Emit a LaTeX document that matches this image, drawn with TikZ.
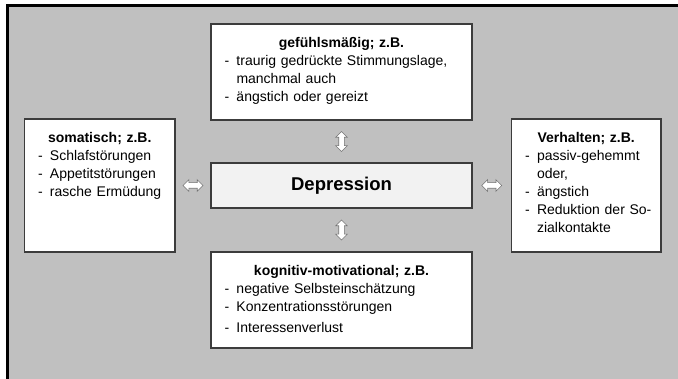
\documentclass[tikz,border=0pt]{standalone}
\usepackage{fontspec}
\setmainfont{Liberation Sans}
\usetikzlibrary{calc,positioning,shapes.arrows}
\definecolor{bggray}{RGB}{192,192,192}
\definecolor{framegray}{RGB}{60,60,60}
\definecolor{depfill}{RGB}{242,242,242}
\newcommand{\itm}[1]{\par\noindent\makebox[12pt][l]{-}#1}
\newcommand{\cnt}[1]{\par\noindent\makebox[12pt][l]{\strut}#1}
\newcommand{\ttl}[1]{{\centering\bfseries #1\par}}

\begin{document}
\begin{tikzpicture}[x=1pt,y=-1pt,
  panel/.style={draw=framegray,line width=1.2pt,fill=white,inner sep=0pt},
  list/.style={inner sep=0pt,align=left,font=\fontsize{14}{18}\selectfont,anchor=north},
  dblarr/.style={double arrow,draw=black!55,fill=white,line width=0.6pt,
    minimum height=20pt,minimum width=11pt,inner xsep=0pt,inner ysep=2.5pt,
    double arrow head extend=3pt}]
			%%%%% START %%%%%

			\useasboundingbox (0,0) rectangle (678,379);
			\fill[white] (0,0) rectangle (678,379);
			\fill[bggray] (7.5,5.5) rectangle (678,379);
			\draw[line width=3pt] (7.5,379) -- (7.5,5.5) -- (678,5.5);

			\node[panel,minimum width=261pt,minimum height=96pt] (feel) at (341.5,72) {};
			\node[panel,fill=depfill,minimum width=261pt,minimum height=45pt,
			  font=\bfseries\fontsize{18.5}{22}\selectfont] (dep) at (341.5,185.5) {Depression};
			\node[panel,minimum width=261pt,minimum height=96pt] (cog) at (341.5,300) {};
			\node[panel,minimum width=150.5pt,minimum height=133pt] (soma) at (99.75,185.5) {};
			\node[panel,minimum width=149.5pt,minimum height=133pt] (behav) at (586.25,185.5) {};

			\node[list,text width=234pt,below=13.5pt of feel.north] (feeltxt)
			  {\ttl{gefühlsmäßig; z.B.}\itm{traurig gedrückte Stimmungslage,}\cnt{manchmal auch}\itm{ängstich oder gereizt}};
			\node[list,text width=234pt,below=13.5pt of cog.north] (cogtxt)
			  {\ttl{kognitiv-motivational; z.B.}\itm{negative Selbsteinschätzung}\itm{Konzentrationsstörungen}\par\vspace{3pt}\itm{Interessenverlust}};
			\node[list,text width=123.5pt,below=14pt of soma.north] (somatxt)
			  {\ttl{somatisch; z.B.}\itm{Schlafstörungen}\itm{Appetitstörungen}\itm{rasche Ermüdung}};
			\node[list,text width=122.5pt,below=14pt of behav.north] (behavtxt)
			  {\ttl{Verhalten; z.B.}\itm{\mbox{passiv-gehemmt}}\cnt{oder,}\itm{ängstich}\itm{\mbox{Reduktion der So-}}\cnt{zialkontakte}};

			\node[dblarr,rotate=90] (fa) at ($(feel.south)!0.5!(dep.north)$) {};
			\node[dblarr,rotate=90] (ca) at ($(dep.south)!0.5!(cog.north)$) {};
			\node[dblarr] (sa) at ($(soma.east)!0.5!(dep.west)$) {};
			\node[dblarr] (ba) at ($(dep.east)!0.5!(behav.west)$) {};

			%%%%% END %%%%%
\end{tikzpicture}
\end{document}
